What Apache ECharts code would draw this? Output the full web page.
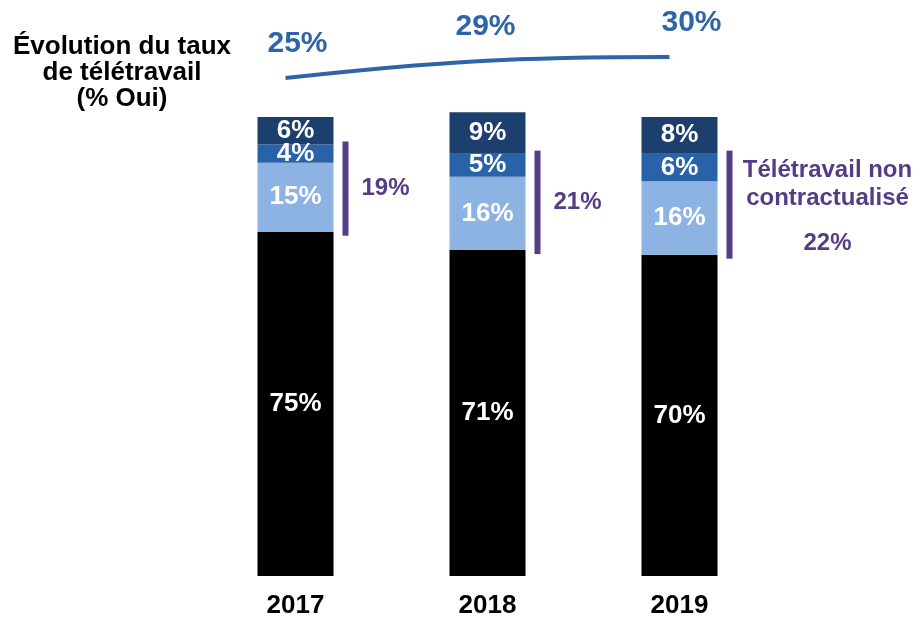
<!DOCTYPE html>
<html>
<head>
<meta charset="utf-8">
<script src="https://cdn.jsdelivr.net/npm/echarts@6/dist/echarts.min.js"></script>
<style>
  html, body { margin: 0; padding: 0; background: #fff; }
  #chart { width: 915px; height: 620px; }
</style>
</head>
<body>
<div id="chart"></div>
<script>
  'use strict';

  var years = ['2017', '2018', '2019'];
  var noTelework = [75, 71, 70];      // black
  var nonContract = [15, 16, 16];     // light blue
  var partial = [4, 5, 6];            // mid blue
  var contract = [6, 9, 8];           // dark navy
  var totalRate = [25, 29, 30];       // curve at top
  var bracketRate = [19, 21, 22];     // purple brackets
  var bracketNotes = ['', '', 'Télétravail non\ncontractualisé'];

  var FONT = '"Liberation Sans", Arial, sans-serif';
  var PURPLE = '#553c85';
  var labelShift = [12, 8, 22];

  function barSeries(name, data, color) {
    return {
      name: name,
      type: 'bar',
      stack: 'all',
      barWidth: 76,
      data: data,
      itemStyle: { color: color },
      label: {
        show: true,
        position: 'inside',
        formatter: '{c}%',
        color: '#fff',
        fontFamily: FONT,
        fontWeight: 'bold',
        fontSize: 26
      }
    };
  }

  var bracketData = years.map(function (y, i) {
    return [i, noTelework[i], noTelework[i] + nonContract[i] + partial[i], bracketRate[i]];
  });

  var option = {
    animation: false,
    grid: [
      { left: 199.5, right: 139.5, top: 94, bottom: 44 },
      { left: 189.5, right: 149.5, top: 36, height: 63 }
    ],
    xAxis: [
      {
        type: 'category',
        data: years,
        gridIndex: 0,
        axisLine: { show: false },
        axisTick: { show: false },
        axisLabel: {
          margin: 17,
          color: '#000',
          fontFamily: FONT,
          fontWeight: 'bold',
          fontSize: 26
        }
      },
      { type: 'category', data: years, gridIndex: 1, show: false }
    ],
    yAxis: [
      { type: 'value', gridIndex: 0, min: 0, max: 105, show: false },
      { type: 'value', gridIndex: 1, min: 20, max: 35, show: false }
    ],
    graphic: [{
      type: 'text',
      x: 122,
      y: 34,
      style: {
        text: 'Évolution du taux\nde télétravail\n(% Oui)',
        fill: '#000',
        font: 'bold 26px ' + FONT,
        align: 'center',
        verticalAlign: 'top',
        lineHeight: 26
      }
    }],
    series: [
      barSeries('Non', noTelework, '#000000'),
      barSeries('Non contractualisé', nonContract, '#8db3e2'),
      barSeries('Partiel', partial, '#2862a9'),
      barSeries('Contractualisé', contract, '#1d3f6e'),
      {
        type: 'line',
        xAxisIndex: 1,
        yAxisIndex: 1,
        smooth: 0.4,
        symbol: 'circle',
        symbolSize: 0,
        lineStyle: { color: '#2e64a8', width: 4 },
        itemStyle: { color: '#2e64a8' },
        data: totalRate.map(function (v, i) {
          return { value: v, label: { offset: [labelShift[i], 0] } };
        }),
        label: {
          show: true,
          position: 'top',
          distance: 19,
          formatter: '{c}%',
          color: '#2e64a8',
          fontFamily: FONT,
          fontWeight: 'bold',
          fontSize: 30
        }
      },
      {
        type: 'custom',
        xAxisIndex: 0,
        yAxisIndex: 0,
        clip: false,
        data: bracketData,
        renderItem: function (params, api) {
          var i = params.dataIndex;
          var lo = api.coord([api.value(0), api.value(1)]);
          var hi = api.coord([api.value(0), api.value(2)]);
          var x = lo[0] + 50;
          var mid = (lo[1] + hi[1]) / 2;
          var children = [{
            type: 'rect',
            shape: { x: x - 3, y: hi[1] - 3, width: 6, height: lo[1] - hi[1] + 7 },
            style: { fill: PURPLE }
          }];
          var note = bracketNotes[i];
          var pct = api.value(3) + '%';
          var font = 'bold 24px ' + FONT;
          if (note) {
            children.push({
              type: 'text',
              x: x + 98,
              y: mid - 20,
              style: {
                text: note,
                fill: PURPLE,
                font: font,
                align: 'center',
                verticalAlign: 'middle',
                lineHeight: 28
              }
            });
            children.push({
              type: 'text',
              x: x + 98,
              y: mid + 39,
              style: { text: pct, fill: PURPLE, font: font, align: 'center', verticalAlign: 'middle' }
            });
          } else {
            children.push({
              type: 'text',
              x: x + 40,
              y: mid,
              style: { text: pct, fill: PURPLE, font: font, align: 'center', verticalAlign: 'middle' }
            });
          }
          return { type: 'group', children: children };
        }
      }
    ]
  };

  var chart = echarts.init(document.getElementById('chart'));
  chart.setOption(option);
</script>
</body>
</html>
